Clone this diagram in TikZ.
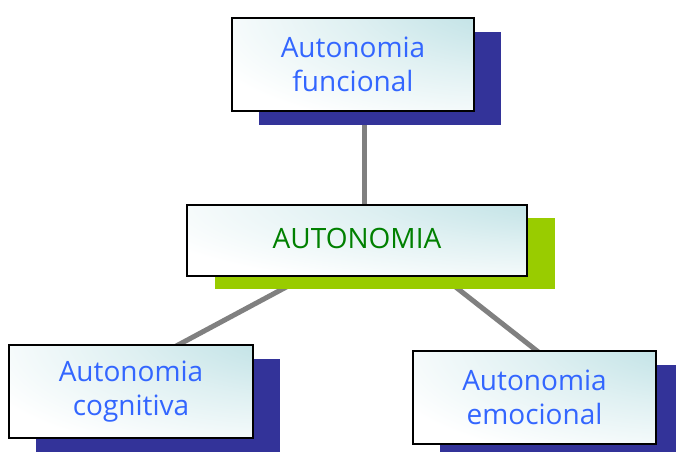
\documentclass[tikz,border=0pt]{standalone}
\usepackage{fontspec}
\setmainfont{Open Sans}
\usetikzlibrary{shadows}
\definecolor{tealc}{RGB}{184,222,226}
\definecolor{navy}{RGB}{51,51,153}
\definecolor{lime}{RGB}{153,204,0}
\definecolor{txtblue}{RGB}{51,102,255}
\definecolor{txtgreen}{RGB}{0,128,0}
\definecolor{linkgray}{RGB}{128,128,128}
\pgfdeclareradialshading{boxshade}{\pgfpoint{45bp}{42bp}}{color(0bp)=(tealc); color(10bp)=(tealc); color(35bp)=(tealc!45!white); color(60bp)=(white); color(140bp)=(white)}
\tikzset{
  box/.style={draw=black, line width=1.8pt, shading=boxshade, inner sep=0pt,
    align=center, font=\fontsize{28}{34}\selectfont},
  navyshadow/.style={general shadow={fill=navy, draw=none, shadow xshift=27pt, shadow yshift=-13.5pt}},
  limeshadow/.style={general shadow={fill=lime, draw=none, shadow xshift=28pt, shadow yshift=-12.5pt}},
  link/.style={draw=linkgray, line width=5pt}
}
\begin{document}
\begin{tikzpicture}[x=1pt,y=-1pt]
\useasboundingbox (0,0) rectangle (676,451);
% connector coordinates
\coordinate (t1) at (364,100);
\coordinate (t2) at (364,215);
\coordinate (l1) at (318,270);
\coordinate (l2) at (165,352);
\coordinate (r1) at (434,270);
\coordinate (r2) at (546,358);
\draw[link] (t1) -- (t2);
\draw[link] (l1) -- (l2);
\draw[link] (r1) -- (r2);
% boxes
\node[box, navyshadow, minimum width=242pt, minimum height=93pt, text=txtblue] (func) at (353,64.5) {Autonomia\\funcional};
\node[box, limeshadow, minimum width=340pt, minimum height=71pt, text=txtgreen] (auto) at (357,240.5) {\raisebox{4pt}{AUTONOMIA}};
\node[box, navyshadow, minimum width=244pt, minimum height=93pt, text=txtblue] (cogn) at (131,391.5) {Autonomia\\cognitiva};
\node[box, navyshadow, minimum width=243pt, minimum height=93pt, text=txtblue] (emoc) at (534.5,397.5) {Autonomia\\emocional};
\end{tikzpicture}
\end{document}
